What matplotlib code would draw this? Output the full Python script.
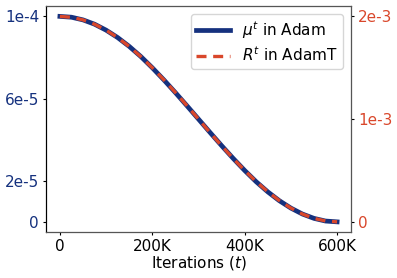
import matplotlib
matplotlib.use("Agg")
import matplotlib.pyplot as plt

# values (iterations in K)
iters = [0, 25, 50, 75, 100, 125, 150, 175, 200, 225, 250, 275, 300,
         325, 350, 375, 400, 425, 450, 475, 500, 525, 550, 575, 600]
mu_adam = [1.000e-4, 0.996e-4, 0.983e-4, 0.962e-4, 0.933e-4, 0.897e-4,
           0.854e-4, 0.805e-4, 0.750e-4, 0.691e-4, 0.629e-4, 0.565e-4,
           0.500e-4, 0.435e-4, 0.371e-4, 0.309e-4, 0.250e-4, 0.195e-4,
           0.146e-4, 0.103e-4, 0.067e-4, 0.038e-4, 0.017e-4, 0.004e-4, 0.0]
r_adamt = [2.000e-3, 1.991e-3, 1.966e-3, 1.924e-3, 1.866e-3, 1.793e-3,
           1.707e-3, 1.609e-3, 1.500e-3, 1.383e-3, 1.259e-3, 1.131e-3,
           1.000e-3, 0.869e-3, 0.741e-3, 0.617e-3, 0.500e-3, 0.391e-3,
           0.293e-3, 0.207e-3, 0.134e-3, 0.076e-3, 0.034e-3, 0.009e-3, 0.0]

left_ticks = [0, 2e-5, 6e-5, 1e-4]
left_labels = ["0", "2e-5", "6e-5", "1e-4"]
right_ticks = [0, 1e-3, 2e-3]
right_labels = ["0", "1e-3", "2e-3"]
x_ticks = [0, 200, 400, 600]
x_labels = ["0", "200K", "400K", "600K"]

blue = "#15317e"
red = "#d9472b"

plt.rcParams["font.size"] = 11

fig, ax = plt.subplots(figsize=(3.97, 2.78), dpi=100)
ax2 = ax.twinx()

l1, = ax.plot(iters, mu_adam, color=blue, lw=3.4, label=r"$\mu^t$ in Adam")
l2, = ax2.plot(iters, r_adamt, color=red, lw=2.4, ls=(0, (3, 2)),
               label=r"$R^t$ in AdamT")

ax.set_yticks(left_ticks)
ax.set_yticklabels(left_labels, color=blue)
ax2.set_yticks(right_ticks)
ax2.set_yticklabels(right_labels, color=red)
ax.set_xticks(x_ticks)
ax.set_xticklabels(x_labels)
ax.set_xlabel(r"Iterations ($t$)", labelpad=0)
ax.tick_params(length=2.5, pad=2.5)
ax2.tick_params(length=2.5, pad=2.5)

ax2.set_ylim(-1e-4, 2.1e-3)
ax.set_ylim(-5e-6, 1.05e-4)

for s in ["top", "right", "bottom"]:
    ax2.spines[s].set_color("#555555")
ax.spines["left"].set_color("black")

ax2.legend([l1, l2], [l1.get_label(), l2.get_label()], loc="upper right",
           handlelength=2.2, borderpad=0.35, labelspacing=0.3)

fig.subplots_adjust(left=0.116, right=0.884, top=0.978, bottom=0.165)
fig.savefig("out.png", dpi=100)
